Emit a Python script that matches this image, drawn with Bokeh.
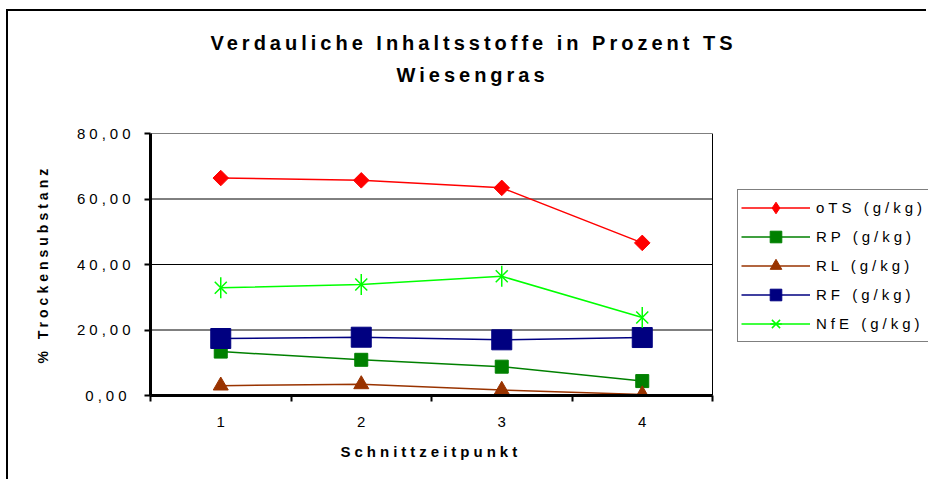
import math
from bokeh.plotting import figure
from bokeh.models import FixedTicker, Legend, LegendItem, Title
from bokeh.embed import file_html
from bokeh.resources import INLINE

# ---- data ----
cuts = [1, 2, 3, 4]
cut_labels = ["1", "2", "3", "4"]
ots = [66.4, 65.7, 63.4, 46.6]
rp = [13.4, 10.9, 8.8, 4.4]
rl = [3.0, 3.4, 1.7, 0.3]
rf = [17.4, 17.8, 17.0, 17.7]
nfe = [32.9, 33.9, 36.4, 23.8]
y_ticks = [0, 20, 40, 60, 80]
y_tick_labels = ["0,00", "20,00", "40,00", "60,00", "80,00"]
series_labels = ["oTS (g/kg)", "RP (g/kg)", "RL (g/kg)", "RF (g/kg)", "NfE (g/kg)"]
title_line1 = "Verdauliche Inhaltsstoffe in Prozent TS"
title_line2 = "Wiesengras"
x_title = "Schnittzeitpunkt"
y_title = "% Trockensubstanz"

FONT = "Liberation Sans"

# layout (pixels)
W, H = 920, 470
BORDER_L, BORDER_T, BORDER_B = 142, 122, 86
PLOT_W = 562            # width of the drawn plot area (categories)
frame_w = W - BORDER_L  # frame runs to the right edge, legend sits inside it

x0 = cuts[0] - 0.5
x1 = cuts[-1] + 0.5
x_end = x0 + (x1 - x0) * frame_w / PLOT_W

p = figure(width=W, height=H,
           x_range=(x0, x_end), y_range=(y_ticks[0], y_ticks[-1]),
           output_backend="svg", toolbar_location=None,
           min_border_left=BORDER_L, min_border_right=0,
           min_border_top=BORDER_T, min_border_bottom=BORDER_B,
           background_fill_color="white", border_fill_color="white",
           outline_line_color=None)
p.styles = {"margin-left": "6px", "margin-top": "9px",
            "border-left": "2px solid black", "border-top": "2px solid black",
            "letter-spacing": "4px"}

# titles (stacked from the plot frame outward)
spacer = Title(text=" ", text_font=FONT, text_font_size="17px", standoff=27)
p.add_layout(spacer, "above")
t2 = Title(text=title_line2, align="left", offset=246, text_font=FONT,
           text_font_size="20px", text_font_style="bold", text_color="black", standoff=0)
p.add_layout(t2, "above")
t1 = Title(text=title_line1, align="left", offset=60, text_font=FONT,
           text_font_size="20px", text_font_style="bold", text_color="black", standoff=16)
p.add_layout(t1, "above")

# axis titles
xt = Title(text=x_title, align="left", offset=190, text_font=FONT,
           text_font_size="15px", text_font_style="bold", text_color="black", standoff=22)
p.add_layout(xt, "below")
yt = Title(text=y_title, align="left", offset=32, text_font=FONT,
           text_font_size="14px", text_font_style="bold", text_color="black", standoff=45)
p.add_layout(yt, "left")

# grid lines and plot-area border restricted to the category span
p.xgrid.visible = False
p.ygrid.visible = False
n = len(y_ticks)
p.segment(x0=[x0] * n, y0=y_ticks, x1=[x1] * n, y1=y_ticks,
          line_color="black", line_width=1)
p.segment(x0=[x1], y0=[y_ticks[0]], x1=[x1], y1=[y_ticks[-1]],
          line_color="black", line_width=1)

# y axis
ya = p.yaxis[0]
ya.ticker = FixedTicker(ticks=y_ticks)
ya.major_label_overrides = {t: l for t, l in zip(y_ticks, y_tick_labels)}
ya.axis_line_width = 3
ya.axis_line_color = "black"
ya.major_tick_out = 6
ya.major_tick_in = 0
ya.major_tick_line_width = 2
ya.minor_tick_line_color = None
ya.major_label_text_font = FONT
ya.major_label_text_font_size = "15px"
ya.major_label_text_color = "black"
ya.major_label_standoff = 30

# x axis
xa = p.xaxis[0]
bounds = [c - 0.5 for c in cuts] + [cuts[-1] + 0.5]
xa.bounds = (x0, x1)
xa.ticker = FixedTicker(ticks=cuts, minor_ticks=bounds)
xa.major_label_overrides = {c: l for c, l in zip(cuts, cut_labels)}
xa.axis_line_width = 3
xa.axis_line_color = "black"
xa.major_tick_line_color = None
xa.major_tick_out = 0
xa.major_tick_in = 0
xa.minor_tick_out = 6
xa.minor_tick_in = 0
xa.minor_tick_line_width = 2
xa.minor_tick_line_color = "black"
xa.major_label_text_font = FONT
xa.major_label_text_font_size = "15px"
xa.major_label_text_color = "black"
xa.major_label_standoff = 15

# series
items = []
lw = 1.5

l = p.line(cuts, ots, line_color="#FF0000", line_width=lw)
md = p.scatter(cuts, ots, marker="diamond", size=12,
               fill_color="#FF0000", line_color="#FF0000")
m = p.scatter(cuts, ots, marker="square", angle=math.pi / 4, size=11,
              fill_color="#FF0000", line_color="#FF0000")
items.append(LegendItem(label=series_labels[0], renderers=[l, md]))

l = p.line(cuts, rp, line_color="#008000", line_width=lw)
m = p.scatter(cuts, rp, marker="square", size=13,
              fill_color="#008000", line_color="#008000")
items.append(LegendItem(label=series_labels[1], renderers=[l, m]))

l = p.line(cuts, rl, line_color="#993300", line_width=lw)
m = p.scatter(cuts, rl, marker="triangle", size=15,
              fill_color="#993300", line_color="#993300")
items.append(LegendItem(label=series_labels[2], renderers=[l, m]))

l = p.line(cuts, rf, line_color="#000080", line_width=lw)
m = p.scatter(cuts, rf, marker="square", size=20,
              fill_color="#000080", line_color="#000080")
items.append(LegendItem(label=series_labels[3], renderers=[l, m]))

l = p.line(cuts, nfe, line_color="#00FF00", line_width=lw)
m1 = p.scatter(cuts, nfe, marker="x", size=17, line_color="#00FF00", line_width=1.5)
m2 = p.scatter(cuts, nfe, marker="dash", angle=math.pi / 2, size=21,
               line_color="#00FF00", line_width=1.5)
items.append(LegendItem(label=series_labels[4], renderers=[l, m1, m2]))

legend = Legend(items=items, location=(587, 53), orientation="vertical",
                glyph_width=69, glyph_height=29, label_height=29,
                spacing=0, padding=3, margin=0, label_standoff=6, label_width=108,
                label_text_font=FONT, label_text_font_size="15px",
                label_text_color="black",
                border_line_color="black", border_line_width=1,
                background_fill_color="white", background_fill_alpha=1.0)
p.add_layout(legend, "center")

open("out.html", "w").write(file_html(p, INLINE))
